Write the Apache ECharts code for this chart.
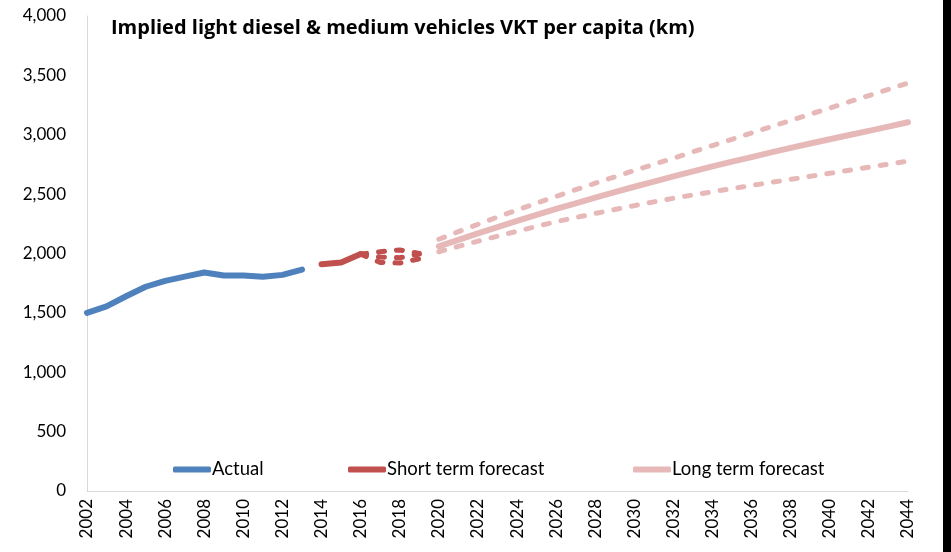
<!DOCTYPE html>
<html>
<head>
<meta charset="utf-8">
<script src="https://cdn.jsdelivr.net/npm/echarts@6/dist/echarts.min.js"></script>
<style>html,body{margin:0;padding:0;background:#fff}#c{width:951px;height:552px}</style>
</head>
<body>
<div id="c"></div>
<script>
const years = [];
for (let y = 2002; y <= 2044; y++) years.push(String(y));

const actualStart = 2002;
const actual = [1500, 1555, 1640, 1720, 1770, 1805, 1840, 1815, 1815, 1805, 1820, 1865];

const shortStart = 2014;
const shortTerm = [1910, 1925, 1995];

const shortDashStart = 2016;
const shortMid = [1995, 1970, 1965, 1995];
const shortHigh = [1995, 2015, 2030, 2000];
const shortLow = [1995, 1925, 1920, 1955];

const longStart = 2020;
const longMid = [2060, 2115, 2170, 2222, 2274, 2325, 2375, 2423, 2470, 2517, 2562, 2606, 2650,
  2692, 2733, 2773, 2812, 2851, 2889, 2926, 2962, 2998, 3033, 3069, 3105];
const longHigh = [2120, 2184, 2246, 2307, 2366, 2424, 2481, 2537, 2592, 2646, 2699, 2751, 2802,
  2856, 2909, 2962, 3015, 3068, 3120, 3173, 3225, 3278, 3330, 3383, 3435];
const longLow = [2015, 2060, 2104, 2146, 2187, 2228, 2268, 2303, 2337, 2370, 2403, 2435, 2465,
  2493, 2520, 2547, 2573, 2599, 2624, 2650, 2675, 2701, 2727, 2752, 2778];

const yTicks = [0, 500, 1000, 1500, 2000, 2500, 3000, 3500, 4000];

function place(startYear, vals) {
  const out = years.map(() => null);
  const off = years.indexOf(String(startYear));
  vals.forEach((v, i) => { out[off + i] = v; });
  return out;
}

const BLUE = '#4F81BD', RED = '#C0504D', PINK = '#E6B9B8';
const FONT = 'Lato';
const DASH = [6, 12];

function line(name, color, data, width, dashed) {
  return {
    name: name, type: 'line', data: data, symbol: 'none', connectNulls: false,
    smooth: false, silent: true,
    lineStyle: { color: color, width: width, type: dashed ? DASH : 'solid', cap: 'round', join: 'round' },
    itemStyle: { color: color }
  };
}

const chart = echarts.init(document.getElementById('c'));
const legendBase = {
  top: 455, icon: 'roundRect', itemWidth: 38, itemHeight: 6, itemGap: 0,
  textStyle: { fontFamily: FONT, fontSize: 18.5, color: '#000', padding: [0, 0, 0, -4] },
  selectedMode: false
};
chart.setOption({
  animation: false,
  backgroundColor: '#fff',
  title: {
    text: 'Implied light diesel & medium vehicles VKT per capita (km)',
    left: 106, top: 13,
    textStyle: { fontFamily: 'Open Sans', fontWeight: 'bold', fontSize: 20, color: '#000' }
  },
  legend: [
    Object.assign({}, legendBase, { left: 168, data: ['Actual'] }),
    Object.assign({}, legendBase, { left: 343, data: ['Short term forecast'] }),
    Object.assign({}, legendBase, { left: 628, data: ['Long term forecast'] })
  ],
  grid: { left: 87, right: 43, top: 16, bottom: 61, containLabel: false },
  xAxis: {
    type: 'category', data: years, boundaryGap: false,
    axisLine: { lineStyle: { color: '#D9D9D9', width: 1 } },
    axisTick: { show: false },
    axisLabel: { interval: 1, rotate: 90, margin: 8, fontFamily: FONT, fontSize: 17, color: '#000' },
    splitLine: { show: false }
  },
  yAxis: {
    type: 'value', min: yTicks[0], max: yTicks[yTicks.length - 1], interval: 500,
    axisLine: { show: true, lineStyle: { color: '#D9D9D9', width: 1 } },
    axisTick: { show: false },
    splitLine: { show: false },
    axisLabel: { margin: 21, fontFamily: FONT, fontSize: 17, color: '#000',
      formatter: v => v.toLocaleString('en-US') }
  },
  graphic: [{ type: 'rect', shape: { x: 943, y: 0, width: 8, height: 552 }, style: { fill: '#000' }, silent: true }],
  series: [
    line('Actual', BLUE, place(actualStart, actual), 6, false),
    line('Short term forecast', RED, place(shortStart, shortTerm), 6, false),
    line('Short term forecast', RED, place(shortDashStart, shortMid), 5, true),
    line('Short term forecast', RED, place(shortDashStart, shortHigh), 5, true),
    line('Short term forecast', RED, place(shortDashStart, shortLow), 5, true),
    line('Long term forecast', PINK, place(longStart, longMid), 6, false),
    line('Long term forecast', PINK, place(longStart, longHigh), 5, true),
    line('Long term forecast', PINK, place(longStart, longLow), 5, true)
  ]
});
</script>
</body>
</html>
